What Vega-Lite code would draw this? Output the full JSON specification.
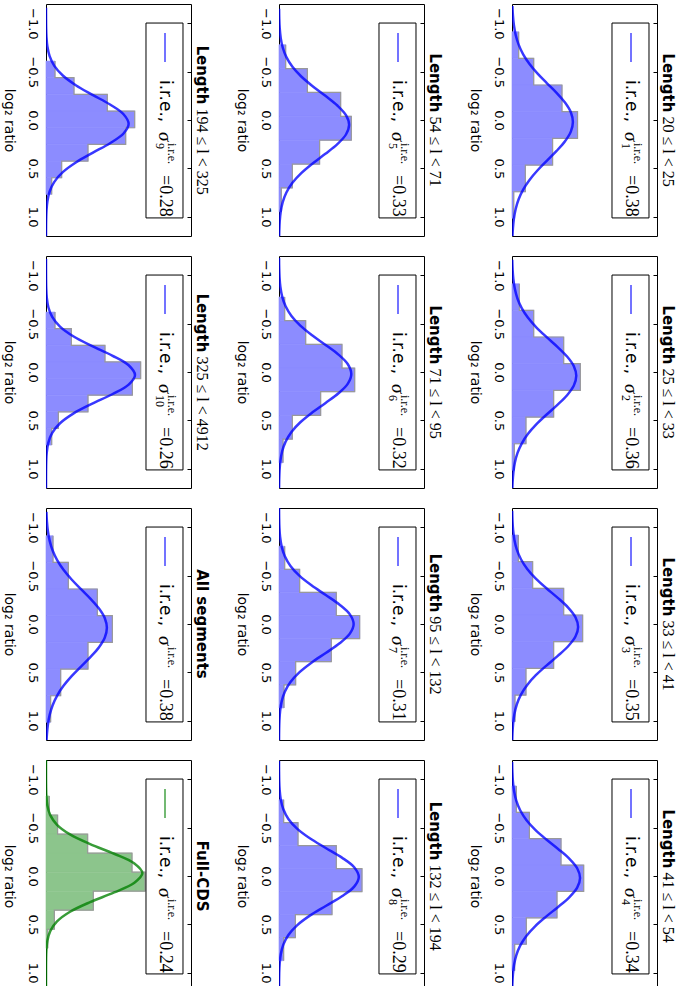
{
"$schema": "https://vega.github.io/schema/vega-lite/v6.json",
"padding": {"left": 0, "top": 3, "right": 0, "bottom": 0},
"background": "#ffffff",
"config": {
 "view": {"stroke": "#000000", "strokeWidth": 1},
 "axis": {"grid": false, "domain": false, "labelFont": "DejaVu Sans", "labelFontSize": 13, "labelColor": "#000000", "titleFont": "DejaVu Sans", "titleFontSize": 14, "titleFontWeight": "normal", "titleColor": "#000000", "tickColor": "#000000"},
 "axisLeft": {"ticks": false, "labelAngle": 90, "labelAlign": "center", "labelBaseline": "top", "labelPadding": 8, "titleAngle": 90, "titleBaseline": "top", "titlePadding": 10},
 "axisRight": {"tickSize": -4, "labels": false},
 "style": {
  "leg": {"angle": 90, "baseline": "middle", "align": "left", "font": "DejaVu Sans", "fontSize": 17, "fill": "#000000"},
  "sig": {"angle": 90, "baseline": "middle", "align": "left", "font": "Liberation Serif", "fontStyle": "italic", "fontSize": 19, "fill": "#000000"},
  "sml": {"angle": 90, "baseline": "middle", "align": "left", "font": "Liberation Serif", "fontSize": 12, "fill": "#000000"},
  "mth": {"angle": 90, "baseline": "middle", "align": "left", "font": "Liberation Serif", "fontSize": 18, "fill": "#000000"},
  "ttl": {"angle": 90, "baseline": "middle", "align": "right", "font": "DejaVu Sans", "fontWeight": "bold", "fontSize": 15, "fill": "#000000"},
  "tm": {"angle": 90, "baseline": "middle", "align": "left", "font": "Liberation Serif", "fontSize": 16, "fill": "#000000"}
 }
},
"datasets": {
 "bars": [
  {"p":1,"lo":-0.913,"hi":-0.638,"d":0.115},{"p":1,"lo":-0.638,"hi":-0.362,"d":0.374},{"p":1,"lo":-0.362,"hi":-0.086,"d":0.862},{"p":1,"lo":-0.086,"hi":0.19,"d":1.13},{"p":1,"lo":0.19,"hi":0.466,"d":0.70},{"p":1,"lo":0.466,"hi":0.742,"d":0.23},{"p":1,"lo":0.742,"hi":1.017,"d":0.03},
  {"p":2,"lo":-0.913,"hi":-0.638,"d":0.126},{"p":2,"lo":-0.638,"hi":-0.362,"d":0.374},{"p":2,"lo":-0.362,"hi":-0.086,"d":0.891},{"p":2,"lo":-0.086,"hi":0.19,"d":1.178},{"p":2,"lo":0.19,"hi":0.466,"d":0.718},{"p":2,"lo":0.466,"hi":0.742,"d":0.241},{"p":2,"lo":0.742,"hi":1.017,"d":0.04},
  {"p":3,"lo":-0.921,"hi":-0.645,"d":0.109},{"p":3,"lo":-0.645,"hi":-0.369,"d":0.356},{"p":3,"lo":-0.369,"hi":-0.093,"d":0.891},{"p":3,"lo":-0.093,"hi":0.183,"d":1.218},{"p":3,"lo":0.183,"hi":0.459,"d":0.718},{"p":3,"lo":0.459,"hi":0.735,"d":0.241},{"p":3,"lo":0.735,"hi":1.011,"d":0.052},
  {"p":4,"lo":-0.932,"hi":-0.659,"d":0.075},{"p":4,"lo":-0.659,"hi":-0.386,"d":0.30},{"p":4,"lo":-0.386,"hi":-0.113,"d":0.845},{"p":4,"lo":-0.113,"hi":0.16,"d":1.236},{"p":4,"lo":0.16,"hi":0.433,"d":0.776},{"p":4,"lo":0.433,"hi":0.706,"d":0.247},{"p":4,"lo":0.706,"hi":0.979,"d":0.046},
  {"p":5,"lo":-0.779,"hi":-0.532,"d":0.115},{"p":5,"lo":-0.532,"hi":-0.285,"d":0.489},{"p":5,"lo":-0.285,"hi":-0.038,"d":1.063},{"p":5,"lo":-0.038,"hi":0.209,"d":1.247},{"p":5,"lo":0.209,"hi":0.456,"d":0.70},{"p":5,"lo":0.456,"hi":0.703,"d":0.23},{"p":5,"lo":0.703,"hi":0.95,"d":0.04},
  {"p":6,"lo":-0.776,"hi":-0.531,"d":0.098},{"p":6,"lo":-0.531,"hi":-0.286,"d":0.46},{"p":6,"lo":-0.286,"hi":-0.041,"d":1.086},{"p":6,"lo":-0.041,"hi":0.204,"d":1.305},{"p":6,"lo":0.204,"hi":0.449,"d":0.718},{"p":6,"lo":0.449,"hi":0.694,"d":0.23},{"p":6,"lo":0.694,"hi":0.939,"d":0.069},
  {"p":7,"lo":-0.805,"hi":-0.566,"d":0.098},{"p":7,"lo":-0.566,"hi":-0.327,"d":0.356},{"p":7,"lo":-0.327,"hi":-0.088,"d":0.988},{"p":7,"lo":-0.088,"hi":0.151,"d":1.391},{"p":7,"lo":0.151,"hi":0.39,"d":0.902},{"p":7,"lo":0.39,"hi":0.629,"d":0.287},{"p":7,"lo":0.629,"hi":0.868,"d":0.086},
  {"p":8,"lo":-0.79,"hi":-0.552,"d":0.08},{"p":8,"lo":-0.552,"hi":-0.314,"d":0.328},{"p":8,"lo":-0.314,"hi":-0.076,"d":0.988},{"p":8,"lo":-0.076,"hi":0.162,"d":1.431},{"p":8,"lo":0.162,"hi":0.4,"d":0.914},{"p":8,"lo":0.4,"hi":0.638,"d":0.282},{"p":8,"lo":0.638,"hi":0.876,"d":0.08},
  {"p":9,"lo":-0.61,"hi":-0.4375,"d":0.155},{"p":9,"lo":-0.4375,"hi":-0.265,"d":0.483},{"p":9,"lo":-0.265,"hi":-0.0925,"d":1.057},{"p":9,"lo":-0.0925,"hi":0.08,"d":1.529},{"p":9,"lo":0.08,"hi":0.2525,"d":1.374},{"p":9,"lo":0.2525,"hi":0.425,"d":0.724},{"p":9,"lo":0.425,"hi":0.5975,"d":0.27},{"p":9,"lo":0.5975,"hi":0.77,"d":0.098},
  {"p":10,"lo":-0.62,"hi":-0.448,"d":0.155},{"p":10,"lo":-0.448,"hi":-0.276,"d":0.437},{"p":10,"lo":-0.276,"hi":-0.104,"d":1.017},{"p":10,"lo":-0.104,"hi":0.068,"d":1.632},{"p":10,"lo":0.068,"hi":0.24,"d":1.489},{"p":10,"lo":0.24,"hi":0.412,"d":0.724},{"p":10,"lo":0.412,"hi":0.584,"d":0.213},{"p":10,"lo":0.584,"hi":0.756,"d":0.098},
  {"p":11,"lo":-0.913,"hi":-0.638,"d":0.121},{"p":11,"lo":-0.638,"hi":-0.362,"d":0.385},{"p":11,"lo":-0.362,"hi":-0.086,"d":0.885},{"p":11,"lo":-0.086,"hi":0.19,"d":1.144},{"p":11,"lo":0.19,"hi":0.466,"d":0.724},{"p":11,"lo":0.466,"hi":0.742,"d":0.253},{"p":11,"lo":0.742,"hi":1.017,"d":0.08},
  {"p":12,"lo":-0.828,"hi":-0.631,"d":0.057},{"p":12,"lo":-0.631,"hi":-0.434,"d":0.20},{"p":12,"lo":-0.434,"hi":-0.237,"d":0.718},{"p":12,"lo":-0.237,"hi":-0.04,"d":1.483},{"p":12,"lo":-0.04,"hi":0.157,"d":1.707},{"p":12,"lo":0.157,"hi":0.354,"d":0.816},{"p":12,"lo":0.354,"hi":0.551,"d":0.144},{"p":12,"lo":0.551,"hi":0.748,"d":0.03}
 ],
 "curves": [
  {"p":1,"r":-1.18,"d":0.0072},{"p":1,"r":-1.08,"d":0.0159},{"p":1,"r":-0.98,"d":0.0329},{"p":1,"r":-0.88,"d":0.0635},{"p":1,"r":-0.78,"d":0.1145},{"p":1,"r":-0.68,"d":0.1924},{"p":1,"r":-0.58,"d":0.3018},{"p":1,"r":-0.48,"d":0.4417},{"p":1,"r":-0.38,"d":0.6033},{"p":1,"r":-0.28,"d":0.7687},{"p":1,"r":-0.18,"d":0.914},{"p":1,"r":-0.08,"d":1.0141},{"p":1,"r":0.02,"d":1.0498},{"p":1,"r":0.12,"d":1.0141},{"p":1,"r":0.22,"d":0.914},{"p":1,"r":0.32,"d":0.7687},{"p":1,"r":0.42,"d":0.6033},{"p":1,"r":0.52,"d":0.4417},{"p":1,"r":0.62,"d":0.3018},{"p":1,"r":0.72,"d":0.1924},{"p":1,"r":0.82,"d":0.1145},{"p":1,"r":0.92,"d":0.0635},{"p":1,"r":1.02,"d":0.0329},{"p":1,"r":1.12,"d":0.0159},{"p":1,"r":1.22,"d":0.0072},
  {"p":2,"r":-1.16,"d":0.0043},{"p":2,"r":-1.06,"d":0.0104},{"p":2,"r":-0.96,"d":0.0234},{"p":2,"r":-0.86,"d":0.0487},{"p":2,"r":-0.76,"d":0.0938},{"p":2,"r":-0.66,"d":0.1674},{"p":2,"r":-0.56,"d":0.2763},{"p":2,"r":-0.46,"d":0.4224},{"p":2,"r":-0.36,"d":0.5978},{"p":2,"r":-0.26,"d":0.7831},{"p":2,"r":-0.16,"d":0.9497},{"p":2,"r":-0.06,"d":1.0663},{"p":2,"r":0.04,"d":1.1082},{"p":2,"r":0.14,"d":1.0663},{"p":2,"r":0.24,"d":0.9497},{"p":2,"r":0.34,"d":0.7831},{"p":2,"r":0.44,"d":0.5978},{"p":2,"r":0.54,"d":0.4224},{"p":2,"r":0.64,"d":0.2763},{"p":2,"r":0.74,"d":0.1674},{"p":2,"r":0.84,"d":0.0938},{"p":2,"r":0.94,"d":0.0487},{"p":2,"r":1.04,"d":0.0234},{"p":2,"r":1.14,"d":0.0104},{"p":2,"r":1.24,"d":0.0043},
  {"p":3,"r":-1.17,"d":0.0032},{"p":3,"r":-1.07,"d":0.0082},{"p":3,"r":-0.97,"d":0.0192},{"p":3,"r":-0.87,"d":0.0418},{"p":3,"r":-0.77,"d":0.0836},{"p":3,"r":-0.67,"d":0.1543},{"p":3,"r":-0.57,"d":0.2623},{"p":3,"r":-0.47,"d":0.4108},{"p":3,"r":-0.37,"d":0.5932},{"p":3,"r":-0.27,"d":0.7894},{"p":3,"r":-0.17,"d":0.9681},{"p":3,"r":-0.07,"d":1.0942},{"p":3,"r":0.03,"d":1.1398},{"p":3,"r":0.13,"d":1.0942},{"p":3,"r":0.23,"d":0.9681},{"p":3,"r":0.33,"d":0.7894},{"p":3,"r":0.43,"d":0.5932},{"p":3,"r":0.53,"d":0.4108},{"p":3,"r":0.63,"d":0.2623},{"p":3,"r":0.73,"d":0.1543},{"p":3,"r":0.83,"d":0.0836},{"p":3,"r":0.93,"d":0.0418},{"p":3,"r":1.03,"d":0.0192},{"p":3,"r":1.13,"d":0.0082},{"p":3,"r":1.23,"d":0.0032},
  {"p":4,"r":-1.18,"d":0.0023},{"p":4,"r":-1.08,"d":0.0063},{"p":4,"r":-0.98,"d":0.0155},{"p":4,"r":-0.88,"d":0.0353},{"p":4,"r":-0.78,"d":0.0737},{"p":4,"r":-0.68,"d":0.141},{"p":4,"r":-0.58,"d":0.2473},{"p":4,"r":-0.48,"d":0.3979},{"p":4,"r":-0.38,"d":0.5873},{"p":4,"r":-0.28,"d":0.795},{"p":4,"r":-0.18,"d":0.987},{"p":4,"r":-0.08,"d":1.1237},{"p":4,"r":0.02,"d":1.1734},{"p":4,"r":0.12,"d":1.1237},{"p":4,"r":0.22,"d":0.987},{"p":4,"r":0.32,"d":0.795},{"p":4,"r":0.42,"d":0.5873},{"p":4,"r":0.52,"d":0.3979},{"p":4,"r":0.62,"d":0.2473},{"p":4,"r":0.72,"d":0.141},{"p":4,"r":0.82,"d":0.0737},{"p":4,"r":0.92,"d":0.0353},{"p":4,"r":1.02,"d":0.0155},{"p":4,"r":1.12,"d":0.0063},{"p":4,"r":1.22,"d":0.0023},
  {"p":5,"r":-1.15,"d":0.0016},{"p":5,"r":-1.05,"d":0.0047},{"p":5,"r":-0.95,"d":0.0122},{"p":5,"r":-0.85,"d":0.0293},{"p":5,"r":-0.75,"d":0.064},{"p":5,"r":-0.65,"d":0.1274},{"p":5,"r":-0.55,"d":0.2315},{"p":5,"r":-0.45,"d":0.3836},{"p":5,"r":-0.35,"d":0.5799},{"p":5,"r":-0.25,"d":0.7997},{"p":5,"r":-0.15,"d":1.0061},{"p":5,"r":-0.05,"d":1.1547},{"p":5,"r":0.05,"d":1.2089},{"p":5,"r":0.15,"d":1.1547},{"p":5,"r":0.25,"d":1.0061},{"p":5,"r":0.35,"d":0.7997},{"p":5,"r":0.45,"d":0.5799},{"p":5,"r":0.55,"d":0.3836},{"p":5,"r":0.65,"d":0.2315},{"p":5,"r":0.75,"d":0.1274},{"p":5,"r":0.85,"d":0.064},{"p":5,"r":0.95,"d":0.0293},{"p":5,"r":1.05,"d":0.0122},{"p":5,"r":1.15,"d":0.0047},{"p":5,"r":1.25,"d":0.0016},
  {"p":6,"r":-1.18,"d":0.0011},{"p":6,"r":-1.08,"d":0.0034},{"p":6,"r":-0.98,"d":0.0094},{"p":6,"r":-0.88,"d":0.0239},{"p":6,"r":-0.78,"d":0.0548},{"p":6,"r":-0.68,"d":0.1139},{"p":6,"r":-0.58,"d":0.215},{"p":6,"r":-0.48,"d":0.3678},{"p":6,"r":-0.38,"d":0.5708},{"p":6,"r":-0.28,"d":0.8034},{"p":6,"r":-0.18,"d":1.0255},{"p":6,"r":-0.08,"d":1.1873},{"p":6,"r":0.02,"d":1.2467},{"p":6,"r":0.12,"d":1.1873},{"p":6,"r":0.22,"d":1.0255},{"p":6,"r":0.32,"d":0.8034},{"p":6,"r":0.42,"d":0.5708},{"p":6,"r":0.52,"d":0.3678},{"p":6,"r":0.62,"d":0.215},{"p":6,"r":0.72,"d":0.1139},{"p":6,"r":0.82,"d":0.0548},{"p":6,"r":0.92,"d":0.0239},{"p":6,"r":1.02,"d":0.0094},{"p":6,"r":1.12,"d":0.0034},{"p":6,"r":1.22,"d":0.0011},
  {"p":7,"r":-1.2,"d":0.0007},{"p":7,"r":-1.1,"d":0.0024},{"p":7,"r":-1.0,"d":0.0071},{"p":7,"r":-0.9,"d":0.019},{"p":7,"r":-0.8,"d":0.0461},{"p":7,"r":-0.7,"d":0.1005},{"p":7,"r":-0.6,"d":0.1978},{"p":7,"r":-0.5,"d":0.3505},{"p":7,"r":-0.4,"d":0.5598},{"p":7,"r":-0.3,"d":0.8057},{"p":7,"r":-0.2,"d":1.0451},{"p":7,"r":-0.1,"d":1.2217},{"p":7,"r":0.0,"d":1.2869},{"p":7,"r":0.1,"d":1.2217},{"p":7,"r":0.2,"d":1.0451},{"p":7,"r":0.3,"d":0.8057},{"p":7,"r":0.4,"d":0.5598},{"p":7,"r":0.5,"d":0.3505},{"p":7,"r":0.6,"d":0.1978},{"p":7,"r":0.7,"d":0.1005},{"p":7,"r":0.8,"d":0.0461},{"p":7,"r":0.9,"d":0.019},{"p":7,"r":1.0,"d":0.0071},{"p":7,"r":1.1,"d":0.0024},{"p":7,"r":1.2,"d":0.0007},
  {"p":8,"r":-1.19,"d":0.0003},{"p":8,"r":-1.09,"d":0.001},{"p":8,"r":-0.99,"d":0.0036},{"p":8,"r":-0.89,"d":0.0111},{"p":8,"r":-0.79,"d":0.0306},{"p":8,"r":-0.69,"d":0.0747},{"p":8,"r":-0.59,"d":0.1618},{"p":8,"r":-0.49,"d":0.3112},{"p":8,"r":-0.39,"d":0.5314},{"p":8,"r":-0.29,"d":0.8057},{"p":8,"r":-0.19,"d":1.0846},{"p":8,"r":-0.09,"d":1.2963},{"p":8,"r":0.01,"d":1.3757},{"p":8,"r":0.11,"d":1.2963},{"p":8,"r":0.21,"d":1.0846},{"p":8,"r":0.31,"d":0.8057},{"p":8,"r":0.41,"d":0.5314},{"p":8,"r":0.51,"d":0.3112},{"p":8,"r":0.61,"d":0.1618},{"p":8,"r":0.71,"d":0.0747},{"p":8,"r":0.81,"d":0.0306},{"p":8,"r":0.91,"d":0.0111},{"p":8,"r":1.01,"d":0.0036},{"p":8,"r":1.11,"d":0.001},{"p":8,"r":1.21,"d":0.0003},
  {"p":9,"r":-1.16,"d":0.0001},{"p":9,"r":-1.06,"d":0.0006},{"p":9,"r":-0.96,"d":0.0024},{"p":9,"r":-0.86,"d":0.0081},{"p":9,"r":-0.76,"d":0.0241},{"p":9,"r":-0.66,"d":0.0626},{"p":9,"r":-0.56,"d":0.1434},{"p":9,"r":-0.46,"d":0.2893},{"p":9,"r":-0.36,"d":0.5136},{"p":9,"r":-0.26,"d":0.8026},{"p":9,"r":-0.16,"d":1.104},{"p":9,"r":-0.06,"d":1.3368},{"p":9,"r":0.04,"d":1.4248},{"p":9,"r":0.14,"d":1.3368},{"p":9,"r":0.24,"d":1.104},{"p":9,"r":0.34,"d":0.8026},{"p":9,"r":0.44,"d":0.5136},{"p":9,"r":0.54,"d":0.2893},{"p":9,"r":0.64,"d":0.1434},{"p":9,"r":0.74,"d":0.0626},{"p":9,"r":0.84,"d":0.0241},{"p":9,"r":0.94,"d":0.0081},{"p":9,"r":1.04,"d":0.0024},{"p":9,"r":1.14,"d":0.0006},{"p":9,"r":1.24,"d":0.0001},
  {"p":10,"r":-1.17,"d":0},{"p":10,"r":-1.07,"d":0.0002},{"p":10,"r":-0.97,"d":0.0009},{"p":10,"r":-0.87,"d":0.0038},{"p":10,"r":-0.77,"d":0.0135},{"p":10,"r":-0.67,"d":0.0409},{"p":10,"r":-0.57,"d":0.107},{"p":10,"r":-0.47,"d":0.2415},{"p":10,"r":-0.37,"d":0.4699},{"p":10,"r":-0.27,"d":0.7886},{"p":10,"r":-0.17,"d":1.1414},{"p":10,"r":-0.07,"d":1.425},{"p":10,"r":0.03,"d":1.5344},{"p":10,"r":0.13,"d":1.425},{"p":10,"r":0.23,"d":1.1414},{"p":10,"r":0.33,"d":0.7886},{"p":10,"r":0.43,"d":0.4699},{"p":10,"r":0.53,"d":0.2415},{"p":10,"r":0.63,"d":0.107},{"p":10,"r":0.73,"d":0.0409},{"p":10,"r":0.83,"d":0.0135},{"p":10,"r":0.93,"d":0.0038},{"p":10,"r":1.03,"d":0.0009},{"p":10,"r":1.13,"d":0.0002},{"p":10,"r":1.23,"d":0},
  {"p":11,"r":-1.16,"d":0.0072},{"p":11,"r":-1.06,"d":0.0159},{"p":11,"r":-0.96,"d":0.0329},{"p":11,"r":-0.86,"d":0.0635},{"p":11,"r":-0.76,"d":0.1145},{"p":11,"r":-0.66,"d":0.1924},{"p":11,"r":-0.56,"d":0.3018},{"p":11,"r":-0.46,"d":0.4417},{"p":11,"r":-0.36,"d":0.6033},{"p":11,"r":-0.26,"d":0.7687},{"p":11,"r":-0.16,"d":0.914},{"p":11,"r":-0.06,"d":1.0141},{"p":11,"r":0.04,"d":1.0498},{"p":11,"r":0.14,"d":1.0141},{"p":11,"r":0.24,"d":0.914},{"p":11,"r":0.34,"d":0.7687},{"p":11,"r":0.44,"d":0.6033},{"p":11,"r":0.54,"d":0.4417},{"p":11,"r":0.64,"d":0.3018},{"p":11,"r":0.74,"d":0.1924},{"p":11,"r":0.84,"d":0.1145},{"p":11,"r":0.94,"d":0.0635},{"p":11,"r":1.04,"d":0.0329},{"p":11,"r":1.14,"d":0.0159},{"p":11,"r":1.24,"d":0.0072},
  {"p":12,"r":-1.23,"d":0},{"p":12,"r":-1.13,"d":0},{"p":12,"r":-1.03,"d":0.0003},{"p":12,"r":-0.93,"d":0.0015},{"p":12,"r":-0.83,"d":0.0064},{"p":12,"r":-0.73,"d":0.0236},{"p":12,"r":-0.63,"d":0.073},{"p":12,"r":-0.53,"d":0.1898},{"p":12,"r":-0.43,"d":0.4145},{"p":12,"r":-0.33,"d":0.7611},{"p":12,"r":-0.23,"d":1.1747},{"p":12,"r":-0.13,"d":1.5241},{"p":12,"r":-0.03,"d":1.6623},{"p":12,"r":0.07,"d":1.5241},{"p":12,"r":0.17,"d":1.1747},{"p":12,"r":0.27,"d":0.7611},{"p":12,"r":0.37,"d":0.4145},{"p":12,"r":0.47,"d":0.1898},{"p":12,"r":0.57,"d":0.073},{"p":12,"r":0.67,"d":0.0236},{"p":12,"r":0.77,"d":0.0064},{"p":12,"r":0.87,"d":0.0015},{"p":12,"r":0.97,"d":0.0003},{"p":12,"r":1.07,"d":0},{"p":12,"r":1.17,"d":0}
 ],
 "labels": [
  {"p":1,"t1":"Length","t2":"20 ≤ l < 25","sub":"1","val":"=0.38"},
  {"p":2,"t1":"Length","t2":"25 ≤ l < 33","sub":"2","val":"=0.36"},
  {"p":3,"t1":"Length","t2":"33 ≤ l < 41","sub":"3","val":"=0.35"},
  {"p":4,"t1":"Length","t2":"41 ≤ l < 54","sub":"4","val":"=0.34"},
  {"p":5,"t1":"Length","t2":"54 ≤ l < 71","sub":"5","val":"=0.33"},
  {"p":6,"t1":"Length","t2":"71 ≤ l < 95","sub":"6","val":"=0.32"},
  {"p":7,"t1":"Length","t2":"95 ≤ l < 132","sub":"7","val":"=0.31"},
  {"p":8,"t1":"Length","t2":"132 ≤ l < 194","sub":"8","val":"=0.29"},
  {"p":9,"t1":"Length","t2":"194 ≤ l < 325","sub":"9","val":"=0.28"},
  {"p":10,"t1":"Length","t2":"325 ≤ l < 4912","sub":"10","val":"=0.26"},
  {"p":11,"t1":"All segments","t2":"","sub":"","val":"=0.38"},
  {"p":12,"t1":"Full-CDS","t2":"","sub":"","val":"=0.24"}
 ]
},
"columns": 3,
"spacing": {"row": 18, "column": 22},
"concat": [
 {"width":145,"height":232,"resolve":{"axis":{"y":"independent"}},"layer":[
  {"data":{"name":"bars"},"transform":[{"filter":"datum.p==9"}],"mark":{"type":"rect","fill":"#8c8cff","stroke":"#8c8cff","strokeWidth":0.6},"encoding":{"y":{"field":"lo","type":"quantitative","scale":{"domain":[-1.2,1.2],"reverse":true,"nice":false,"zero":false},"axis":{"values":[-1,-0.5,0,0.5,1],"format":".1f","title":"log₂ ratio"}},"y2":{"field":"hi"},"x":{"field":"d","type":"quantitative","scale":{"domain":[0,2.5],"nice":false,"zero":false},"axis":null},"x2":{"datum":0}}},
  {"data":{"name":"bars"},"transform":[{"filter":"datum.p==9"},{"fold":["lo","hi"],"as":["k","e"]},{"window":[{"op":"row_number","as":"o"}],"sort":[{"field":"e","order":"ascending"},{"field":"k","order":"ascending"}]}],"mark":{"type":"line","stroke":"#999999","strokeWidth":1.2},"encoding":{"y":{"field":"e","type":"quantitative","axis":null},"x":{"field":"d","type":"quantitative","axis":null},"order":{"field":"o","type":"quantitative"}}},
  {"data":{"name":"curves"},"transform":[{"filter":"datum.p==9"}],"mark":{"type":"line","stroke":"#0000ff","strokeOpacity":0.78,"strokeWidth":2.5,"interpolate":"catmull-rom","clip":true},"encoding":{"y":{"field":"r","type":"quantitative","axis":{"orient":"right","values":[-1,-0.5,0,0.5,1],"title":null}},"x":{"field":"d","type":"quantitative","axis":null},"order":{"field":"r","type":"quantitative"}}},
  {"data":{"values":[{}]},"mark":{"type":"rect","fill":"#ffffff","stroke":"#000000","strokeWidth":1},"encoding":{"x":{"datum":1.724,"axis":null},"x2":{"datum":2.362},"y":{"datum":-1.003,"axis":null},"y2":{"datum":1.013}}},
  {"data":{"values":[{}]},"mark":{"type":"rule","stroke":"#0000ff","strokeOpacity":0.55,"strokeWidth":2},"encoding":{"x":{"datum":2.052,"axis":null},"y":{"datum":-0.9,"axis":null},"y2":{"datum":-0.6}}},
  {"data":{"values":[{}]},"mark":{"type":"text","style":"leg"},"encoding":{"text":{"value":"i.r.e.,"},"x":{"datum":2.052,"axis":null},"y":{"datum":-0.414,"axis":null}}},
  {"data":{"values":[{}]},"mark":{"type":"text","style":"sig"},"encoding":{"text":{"value":"σ"},"x":{"datum":2.052,"axis":null},"y":{"datum":0.124,"axis":null}}},
  {"data":{"values":[{}]},"mark":{"type":"text","style":"sml"},"encoding":{"text":{"value":"i.r.e."},"x":{"datum":2.173,"axis":null},"y":{"datum":0.238,"axis":null}}},
  {"data":{"name":"labels"},"transform":[{"filter":"datum.p==9"}],"mark":{"type":"text","style":"sml"},"encoding":{"text":{"field":"sub"},"x":{"datum":1.966,"axis":null},"y":{"datum":0.238,"axis":null}}},
  {"data":{"name":"labels"},"transform":[{"filter":"datum.p==9"}],"mark":{"type":"text","style":"mth"},"encoding":{"text":{"field":"val"},"x":{"datum":2.052,"axis":null},"y":{"datum":0.569,"axis":null}}},
  {"data":{"name":"labels"},"transform":[{"filter":"datum.p==9"}],"mark":{"type":"text","style":"ttl"},"encoding":{"text":{"field":"t1"},"x":{"datum":2.69,"axis":null},"y":{"datum":-0.161,"axis":null}}},
  {"data":{"name":"labels"},"transform":[{"filter":"datum.p==9"}],"mark":{"type":"text","style":"tm"},"encoding":{"text":{"field":"t2"},"x":{"datum":2.69,"axis":null},"y":{"datum":-0.12,"axis":null}}}
 ]},
 {"width":145,"height":232,"resolve":{"axis":{"y":"independent"}},"layer":[
  {"data":{"name":"bars"},"transform":[{"filter":"datum.p==5"}],"mark":{"type":"rect","fill":"#8c8cff","stroke":"#8c8cff","strokeWidth":0.6},"encoding":{"y":{"field":"lo","type":"quantitative","scale":{"domain":[-1.2,1.2],"reverse":true,"nice":false,"zero":false},"axis":{"values":[-1,-0.5,0,0.5,1],"format":".1f","title":"log₂ ratio"}},"y2":{"field":"hi"},"x":{"field":"d","type":"quantitative","scale":{"domain":[0,2.5],"nice":false,"zero":false},"axis":null},"x2":{"datum":0}}},
  {"data":{"name":"bars"},"transform":[{"filter":"datum.p==5"},{"fold":["lo","hi"],"as":["k","e"]},{"window":[{"op":"row_number","as":"o"}],"sort":[{"field":"e","order":"ascending"},{"field":"k","order":"ascending"}]}],"mark":{"type":"line","stroke":"#999999","strokeWidth":1.2},"encoding":{"y":{"field":"e","type":"quantitative","axis":null},"x":{"field":"d","type":"quantitative","axis":null},"order":{"field":"o","type":"quantitative"}}},
  {"data":{"name":"curves"},"transform":[{"filter":"datum.p==5"}],"mark":{"type":"line","stroke":"#0000ff","strokeOpacity":0.78,"strokeWidth":2.5,"interpolate":"catmull-rom","clip":true},"encoding":{"y":{"field":"r","type":"quantitative","axis":{"orient":"right","values":[-1,-0.5,0,0.5,1],"title":null}},"x":{"field":"d","type":"quantitative","axis":null},"order":{"field":"r","type":"quantitative"}}},
  {"data":{"values":[{}]},"mark":{"type":"rect","fill":"#ffffff","stroke":"#000000","strokeWidth":1},"encoding":{"x":{"datum":1.724,"axis":null},"x2":{"datum":2.362},"y":{"datum":-1.003,"axis":null},"y2":{"datum":1.013}}},
  {"data":{"values":[{}]},"mark":{"type":"rule","stroke":"#0000ff","strokeOpacity":0.55,"strokeWidth":2},"encoding":{"x":{"datum":2.052,"axis":null},"y":{"datum":-0.9,"axis":null},"y2":{"datum":-0.6}}},
  {"data":{"values":[{}]},"mark":{"type":"text","style":"leg"},"encoding":{"text":{"value":"i.r.e.,"},"x":{"datum":2.052,"axis":null},"y":{"datum":-0.414,"axis":null}}},
  {"data":{"values":[{}]},"mark":{"type":"text","style":"sig"},"encoding":{"text":{"value":"σ"},"x":{"datum":2.052,"axis":null},"y":{"datum":0.124,"axis":null}}},
  {"data":{"values":[{}]},"mark":{"type":"text","style":"sml"},"encoding":{"text":{"value":"i.r.e."},"x":{"datum":2.173,"axis":null},"y":{"datum":0.238,"axis":null}}},
  {"data":{"name":"labels"},"transform":[{"filter":"datum.p==5"}],"mark":{"type":"text","style":"sml"},"encoding":{"text":{"field":"sub"},"x":{"datum":1.966,"axis":null},"y":{"datum":0.238,"axis":null}}},
  {"data":{"name":"labels"},"transform":[{"filter":"datum.p==5"}],"mark":{"type":"text","style":"mth"},"encoding":{"text":{"field":"val"},"x":{"datum":2.052,"axis":null},"y":{"datum":0.569,"axis":null}}},
  {"data":{"name":"labels"},"transform":[{"filter":"datum.p==5"}],"mark":{"type":"text","style":"ttl"},"encoding":{"text":{"field":"t1"},"x":{"datum":2.69,"axis":null},"y":{"datum":-0.079,"axis":null}}},
  {"data":{"name":"labels"},"transform":[{"filter":"datum.p==5"}],"mark":{"type":"text","style":"tm"},"encoding":{"text":{"field":"t2"},"x":{"datum":2.69,"axis":null},"y":{"datum":-0.037,"axis":null}}}
 ]},
 {"width":145,"height":232,"resolve":{"axis":{"y":"independent"}},"layer":[
  {"data":{"name":"bars"},"transform":[{"filter":"datum.p==1"}],"mark":{"type":"rect","fill":"#8c8cff","stroke":"#8c8cff","strokeWidth":0.6},"encoding":{"y":{"field":"lo","type":"quantitative","scale":{"domain":[-1.2,1.2],"reverse":true,"nice":false,"zero":false},"axis":{"values":[-1,-0.5,0,0.5,1],"format":".1f","title":"log₂ ratio"}},"y2":{"field":"hi"},"x":{"field":"d","type":"quantitative","scale":{"domain":[0,2.5],"nice":false,"zero":false},"axis":null},"x2":{"datum":0}}},
  {"data":{"name":"bars"},"transform":[{"filter":"datum.p==1"},{"fold":["lo","hi"],"as":["k","e"]},{"window":[{"op":"row_number","as":"o"}],"sort":[{"field":"e","order":"ascending"},{"field":"k","order":"ascending"}]}],"mark":{"type":"line","stroke":"#999999","strokeWidth":1.2},"encoding":{"y":{"field":"e","type":"quantitative","axis":null},"x":{"field":"d","type":"quantitative","axis":null},"order":{"field":"o","type":"quantitative"}}},
  {"data":{"name":"curves"},"transform":[{"filter":"datum.p==1"}],"mark":{"type":"line","stroke":"#0000ff","strokeOpacity":0.78,"strokeWidth":2.5,"interpolate":"catmull-rom","clip":true},"encoding":{"y":{"field":"r","type":"quantitative","axis":{"orient":"right","values":[-1,-0.5,0,0.5,1],"title":null}},"x":{"field":"d","type":"quantitative","axis":null},"order":{"field":"r","type":"quantitative"}}},
  {"data":{"values":[{}]},"mark":{"type":"rect","fill":"#ffffff","stroke":"#000000","strokeWidth":1},"encoding":{"x":{"datum":1.724,"axis":null},"x2":{"datum":2.362},"y":{"datum":-1.003,"axis":null},"y2":{"datum":1.013}}},
  {"data":{"values":[{}]},"mark":{"type":"rule","stroke":"#0000ff","strokeOpacity":0.55,"strokeWidth":2},"encoding":{"x":{"datum":2.052,"axis":null},"y":{"datum":-0.9,"axis":null},"y2":{"datum":-0.6}}},
  {"data":{"values":[{}]},"mark":{"type":"text","style":"leg"},"encoding":{"text":{"value":"i.r.e.,"},"x":{"datum":2.052,"axis":null},"y":{"datum":-0.414,"axis":null}}},
  {"data":{"values":[{}]},"mark":{"type":"text","style":"sig"},"encoding":{"text":{"value":"σ"},"x":{"datum":2.052,"axis":null},"y":{"datum":0.124,"axis":null}}},
  {"data":{"values":[{}]},"mark":{"type":"text","style":"sml"},"encoding":{"text":{"value":"i.r.e."},"x":{"datum":2.173,"axis":null},"y":{"datum":0.238,"axis":null}}},
  {"data":{"name":"labels"},"transform":[{"filter":"datum.p==1"}],"mark":{"type":"text","style":"sml"},"encoding":{"text":{"field":"sub"},"x":{"datum":1.966,"axis":null},"y":{"datum":0.238,"axis":null}}},
  {"data":{"name":"labels"},"transform":[{"filter":"datum.p==1"}],"mark":{"type":"text","style":"mth"},"encoding":{"text":{"field":"val"},"x":{"datum":2.052,"axis":null},"y":{"datum":0.569,"axis":null}}},
  {"data":{"name":"labels"},"transform":[{"filter":"datum.p==1"}],"mark":{"type":"text","style":"ttl"},"encoding":{"text":{"field":"t1"},"x":{"datum":2.69,"axis":null},"y":{"datum":-0.079,"axis":null}}},
  {"data":{"name":"labels"},"transform":[{"filter":"datum.p==1"}],"mark":{"type":"text","style":"tm"},"encoding":{"text":{"field":"t2"},"x":{"datum":2.69,"axis":null},"y":{"datum":-0.037,"axis":null}}}
 ]},
 {"width":145,"height":232,"resolve":{"axis":{"y":"independent"}},"layer":[
  {"data":{"name":"bars"},"transform":[{"filter":"datum.p==10"}],"mark":{"type":"rect","fill":"#8c8cff","stroke":"#8c8cff","strokeWidth":0.6},"encoding":{"y":{"field":"lo","type":"quantitative","scale":{"domain":[-1.2,1.2],"reverse":true,"nice":false,"zero":false},"axis":{"values":[-1,-0.5,0,0.5,1],"format":".1f","title":"log₂ ratio"}},"y2":{"field":"hi"},"x":{"field":"d","type":"quantitative","scale":{"domain":[0,2.5],"nice":false,"zero":false},"axis":null},"x2":{"datum":0}}},
  {"data":{"name":"bars"},"transform":[{"filter":"datum.p==10"},{"fold":["lo","hi"],"as":["k","e"]},{"window":[{"op":"row_number","as":"o"}],"sort":[{"field":"e","order":"ascending"},{"field":"k","order":"ascending"}]}],"mark":{"type":"line","stroke":"#999999","strokeWidth":1.2},"encoding":{"y":{"field":"e","type":"quantitative","axis":null},"x":{"field":"d","type":"quantitative","axis":null},"order":{"field":"o","type":"quantitative"}}},
  {"data":{"name":"curves"},"transform":[{"filter":"datum.p==10"}],"mark":{"type":"line","stroke":"#0000ff","strokeOpacity":0.78,"strokeWidth":2.5,"interpolate":"catmull-rom","clip":true},"encoding":{"y":{"field":"r","type":"quantitative","axis":{"orient":"right","values":[-1,-0.5,0,0.5,1],"title":null}},"x":{"field":"d","type":"quantitative","axis":null},"order":{"field":"r","type":"quantitative"}}},
  {"data":{"values":[{}]},"mark":{"type":"rect","fill":"#ffffff","stroke":"#000000","strokeWidth":1},"encoding":{"x":{"datum":1.724,"axis":null},"x2":{"datum":2.362},"y":{"datum":-1.003,"axis":null},"y2":{"datum":1.013}}},
  {"data":{"values":[{}]},"mark":{"type":"rule","stroke":"#0000ff","strokeOpacity":0.55,"strokeWidth":2},"encoding":{"x":{"datum":2.052,"axis":null},"y":{"datum":-0.9,"axis":null},"y2":{"datum":-0.6}}},
  {"data":{"values":[{}]},"mark":{"type":"text","style":"leg"},"encoding":{"text":{"value":"i.r.e.,"},"x":{"datum":2.052,"axis":null},"y":{"datum":-0.414,"axis":null}}},
  {"data":{"values":[{}]},"mark":{"type":"text","style":"sig"},"encoding":{"text":{"value":"σ"},"x":{"datum":2.052,"axis":null},"y":{"datum":0.124,"axis":null}}},
  {"data":{"values":[{}]},"mark":{"type":"text","style":"sml"},"encoding":{"text":{"value":"i.r.e."},"x":{"datum":2.173,"axis":null},"y":{"datum":0.238,"axis":null}}},
  {"data":{"name":"labels"},"transform":[{"filter":"datum.p==10"}],"mark":{"type":"text","style":"sml"},"encoding":{"text":{"field":"sub"},"x":{"datum":1.966,"axis":null},"y":{"datum":0.238,"axis":null}}},
  {"data":{"name":"labels"},"transform":[{"filter":"datum.p==10"}],"mark":{"type":"text","style":"mth"},"encoding":{"text":{"field":"val"},"x":{"datum":2.052,"axis":null},"y":{"datum":0.569,"axis":null}}},
  {"data":{"name":"labels"},"transform":[{"filter":"datum.p==10"}],"mark":{"type":"text","style":"ttl"},"encoding":{"text":{"field":"t1"},"x":{"datum":2.69,"axis":null},"y":{"datum":-0.203,"axis":null}}},
  {"data":{"name":"labels"},"transform":[{"filter":"datum.p==10"}],"mark":{"type":"text","style":"tm"},"encoding":{"text":{"field":"t2"},"x":{"datum":2.69,"axis":null},"y":{"datum":-0.161,"axis":null}}}
 ]},
 {"width":145,"height":232,"resolve":{"axis":{"y":"independent"}},"layer":[
  {"data":{"name":"bars"},"transform":[{"filter":"datum.p==6"}],"mark":{"type":"rect","fill":"#8c8cff","stroke":"#8c8cff","strokeWidth":0.6},"encoding":{"y":{"field":"lo","type":"quantitative","scale":{"domain":[-1.2,1.2],"reverse":true,"nice":false,"zero":false},"axis":{"values":[-1,-0.5,0,0.5,1],"format":".1f","title":"log₂ ratio"}},"y2":{"field":"hi"},"x":{"field":"d","type":"quantitative","scale":{"domain":[0,2.5],"nice":false,"zero":false},"axis":null},"x2":{"datum":0}}},
  {"data":{"name":"bars"},"transform":[{"filter":"datum.p==6"},{"fold":["lo","hi"],"as":["k","e"]},{"window":[{"op":"row_number","as":"o"}],"sort":[{"field":"e","order":"ascending"},{"field":"k","order":"ascending"}]}],"mark":{"type":"line","stroke":"#999999","strokeWidth":1.2},"encoding":{"y":{"field":"e","type":"quantitative","axis":null},"x":{"field":"d","type":"quantitative","axis":null},"order":{"field":"o","type":"quantitative"}}},
  {"data":{"name":"curves"},"transform":[{"filter":"datum.p==6"}],"mark":{"type":"line","stroke":"#0000ff","strokeOpacity":0.78,"strokeWidth":2.5,"interpolate":"catmull-rom","clip":true},"encoding":{"y":{"field":"r","type":"quantitative","axis":{"orient":"right","values":[-1,-0.5,0,0.5,1],"title":null}},"x":{"field":"d","type":"quantitative","axis":null},"order":{"field":"r","type":"quantitative"}}},
  {"data":{"values":[{}]},"mark":{"type":"rect","fill":"#ffffff","stroke":"#000000","strokeWidth":1},"encoding":{"x":{"datum":1.724,"axis":null},"x2":{"datum":2.362},"y":{"datum":-1.003,"axis":null},"y2":{"datum":1.013}}},
  {"data":{"values":[{}]},"mark":{"type":"rule","stroke":"#0000ff","strokeOpacity":0.55,"strokeWidth":2},"encoding":{"x":{"datum":2.052,"axis":null},"y":{"datum":-0.9,"axis":null},"y2":{"datum":-0.6}}},
  {"data":{"values":[{}]},"mark":{"type":"text","style":"leg"},"encoding":{"text":{"value":"i.r.e.,"},"x":{"datum":2.052,"axis":null},"y":{"datum":-0.414,"axis":null}}},
  {"data":{"values":[{}]},"mark":{"type":"text","style":"sig"},"encoding":{"text":{"value":"σ"},"x":{"datum":2.052,"axis":null},"y":{"datum":0.124,"axis":null}}},
  {"data":{"values":[{}]},"mark":{"type":"text","style":"sml"},"encoding":{"text":{"value":"i.r.e."},"x":{"datum":2.173,"axis":null},"y":{"datum":0.238,"axis":null}}},
  {"data":{"name":"labels"},"transform":[{"filter":"datum.p==6"}],"mark":{"type":"text","style":"sml"},"encoding":{"text":{"field":"sub"},"x":{"datum":1.966,"axis":null},"y":{"datum":0.238,"axis":null}}},
  {"data":{"name":"labels"},"transform":[{"filter":"datum.p==6"}],"mark":{"type":"text","style":"mth"},"encoding":{"text":{"field":"val"},"x":{"datum":2.052,"axis":null},"y":{"datum":0.569,"axis":null}}},
  {"data":{"name":"labels"},"transform":[{"filter":"datum.p==6"}],"mark":{"type":"text","style":"ttl"},"encoding":{"text":{"field":"t1"},"x":{"datum":2.69,"axis":null},"y":{"datum":-0.079,"axis":null}}},
  {"data":{"name":"labels"},"transform":[{"filter":"datum.p==6"}],"mark":{"type":"text","style":"tm"},"encoding":{"text":{"field":"t2"},"x":{"datum":2.69,"axis":null},"y":{"datum":-0.037,"axis":null}}}
 ]},
 {"width":145,"height":232,"resolve":{"axis":{"y":"independent"}},"layer":[
  {"data":{"name":"bars"},"transform":[{"filter":"datum.p==2"}],"mark":{"type":"rect","fill":"#8c8cff","stroke":"#8c8cff","strokeWidth":0.6},"encoding":{"y":{"field":"lo","type":"quantitative","scale":{"domain":[-1.2,1.2],"reverse":true,"nice":false,"zero":false},"axis":{"values":[-1,-0.5,0,0.5,1],"format":".1f","title":"log₂ ratio"}},"y2":{"field":"hi"},"x":{"field":"d","type":"quantitative","scale":{"domain":[0,2.5],"nice":false,"zero":false},"axis":null},"x2":{"datum":0}}},
  {"data":{"name":"bars"},"transform":[{"filter":"datum.p==2"},{"fold":["lo","hi"],"as":["k","e"]},{"window":[{"op":"row_number","as":"o"}],"sort":[{"field":"e","order":"ascending"},{"field":"k","order":"ascending"}]}],"mark":{"type":"line","stroke":"#999999","strokeWidth":1.2},"encoding":{"y":{"field":"e","type":"quantitative","axis":null},"x":{"field":"d","type":"quantitative","axis":null},"order":{"field":"o","type":"quantitative"}}},
  {"data":{"name":"curves"},"transform":[{"filter":"datum.p==2"}],"mark":{"type":"line","stroke":"#0000ff","strokeOpacity":0.78,"strokeWidth":2.5,"interpolate":"catmull-rom","clip":true},"encoding":{"y":{"field":"r","type":"quantitative","axis":{"orient":"right","values":[-1,-0.5,0,0.5,1],"title":null}},"x":{"field":"d","type":"quantitative","axis":null},"order":{"field":"r","type":"quantitative"}}},
  {"data":{"values":[{}]},"mark":{"type":"rect","fill":"#ffffff","stroke":"#000000","strokeWidth":1},"encoding":{"x":{"datum":1.724,"axis":null},"x2":{"datum":2.362},"y":{"datum":-1.003,"axis":null},"y2":{"datum":1.013}}},
  {"data":{"values":[{}]},"mark":{"type":"rule","stroke":"#0000ff","strokeOpacity":0.55,"strokeWidth":2},"encoding":{"x":{"datum":2.052,"axis":null},"y":{"datum":-0.9,"axis":null},"y2":{"datum":-0.6}}},
  {"data":{"values":[{}]},"mark":{"type":"text","style":"leg"},"encoding":{"text":{"value":"i.r.e.,"},"x":{"datum":2.052,"axis":null},"y":{"datum":-0.414,"axis":null}}},
  {"data":{"values":[{}]},"mark":{"type":"text","style":"sig"},"encoding":{"text":{"value":"σ"},"x":{"datum":2.052,"axis":null},"y":{"datum":0.124,"axis":null}}},
  {"data":{"values":[{}]},"mark":{"type":"text","style":"sml"},"encoding":{"text":{"value":"i.r.e."},"x":{"datum":2.173,"axis":null},"y":{"datum":0.238,"axis":null}}},
  {"data":{"name":"labels"},"transform":[{"filter":"datum.p==2"}],"mark":{"type":"text","style":"sml"},"encoding":{"text":{"field":"sub"},"x":{"datum":1.966,"axis":null},"y":{"datum":0.238,"axis":null}}},
  {"data":{"name":"labels"},"transform":[{"filter":"datum.p==2"}],"mark":{"type":"text","style":"mth"},"encoding":{"text":{"field":"val"},"x":{"datum":2.052,"axis":null},"y":{"datum":0.569,"axis":null}}},
  {"data":{"name":"labels"},"transform":[{"filter":"datum.p==2"}],"mark":{"type":"text","style":"ttl"},"encoding":{"text":{"field":"t1"},"x":{"datum":2.69,"axis":null},"y":{"datum":-0.079,"axis":null}}},
  {"data":{"name":"labels"},"transform":[{"filter":"datum.p==2"}],"mark":{"type":"text","style":"tm"},"encoding":{"text":{"field":"t2"},"x":{"datum":2.69,"axis":null},"y":{"datum":-0.037,"axis":null}}}
 ]},
 {"width":145,"height":232,"resolve":{"axis":{"y":"independent"}},"layer":[
  {"data":{"name":"bars"},"transform":[{"filter":"datum.p==11"}],"mark":{"type":"rect","fill":"#8c8cff","stroke":"#8c8cff","strokeWidth":0.6},"encoding":{"y":{"field":"lo","type":"quantitative","scale":{"domain":[-1.2,1.2],"reverse":true,"nice":false,"zero":false},"axis":{"values":[-1,-0.5,0,0.5,1],"format":".1f","title":"log₂ ratio"}},"y2":{"field":"hi"},"x":{"field":"d","type":"quantitative","scale":{"domain":[0,2.5],"nice":false,"zero":false},"axis":null},"x2":{"datum":0}}},
  {"data":{"name":"bars"},"transform":[{"filter":"datum.p==11"},{"fold":["lo","hi"],"as":["k","e"]},{"window":[{"op":"row_number","as":"o"}],"sort":[{"field":"e","order":"ascending"},{"field":"k","order":"ascending"}]}],"mark":{"type":"line","stroke":"#999999","strokeWidth":1.2},"encoding":{"y":{"field":"e","type":"quantitative","axis":null},"x":{"field":"d","type":"quantitative","axis":null},"order":{"field":"o","type":"quantitative"}}},
  {"data":{"name":"curves"},"transform":[{"filter":"datum.p==11"}],"mark":{"type":"line","stroke":"#0000ff","strokeOpacity":0.78,"strokeWidth":2.5,"interpolate":"catmull-rom","clip":true},"encoding":{"y":{"field":"r","type":"quantitative","axis":{"orient":"right","values":[-1,-0.5,0,0.5,1],"title":null}},"x":{"field":"d","type":"quantitative","axis":null},"order":{"field":"r","type":"quantitative"}}},
  {"data":{"values":[{}]},"mark":{"type":"rect","fill":"#ffffff","stroke":"#000000","strokeWidth":1},"encoding":{"x":{"datum":1.724,"axis":null},"x2":{"datum":2.362},"y":{"datum":-1.003,"axis":null},"y2":{"datum":1.013}}},
  {"data":{"values":[{}]},"mark":{"type":"rule","stroke":"#0000ff","strokeOpacity":0.55,"strokeWidth":2},"encoding":{"x":{"datum":2.052,"axis":null},"y":{"datum":-0.9,"axis":null},"y2":{"datum":-0.6}}},
  {"data":{"values":[{}]},"mark":{"type":"text","style":"leg"},"encoding":{"text":{"value":"i.r.e.,"},"x":{"datum":2.052,"axis":null},"y":{"datum":-0.414,"axis":null}}},
  {"data":{"values":[{}]},"mark":{"type":"text","style":"sig"},"encoding":{"text":{"value":"σ"},"x":{"datum":2.052,"axis":null},"y":{"datum":0.124,"axis":null}}},
  {"data":{"values":[{}]},"mark":{"type":"text","style":"sml"},"encoding":{"text":{"value":"i.r.e."},"x":{"datum":2.173,"axis":null},"y":{"datum":0.238,"axis":null}}},
  {"data":{"name":"labels"},"transform":[{"filter":"datum.p==11"}],"mark":{"type":"text","style":"mth"},"encoding":{"text":{"field":"val"},"x":{"datum":2.052,"axis":null},"y":{"datum":0.569,"axis":null}}},
  {"data":{"name":"labels"},"transform":[{"filter":"datum.p==11"}],"mark":{"type":"text","style":"ttl","align":"center"},"encoding":{"text":{"field":"t1"},"x":{"datum":2.69,"axis":null},"y":{"datum":0,"axis":null}}}
 ]},
 {"width":145,"height":232,"resolve":{"axis":{"y":"independent"}},"layer":[
  {"data":{"name":"bars"},"transform":[{"filter":"datum.p==7"}],"mark":{"type":"rect","fill":"#8c8cff","stroke":"#8c8cff","strokeWidth":0.6},"encoding":{"y":{"field":"lo","type":"quantitative","scale":{"domain":[-1.2,1.2],"reverse":true,"nice":false,"zero":false},"axis":{"values":[-1,-0.5,0,0.5,1],"format":".1f","title":"log₂ ratio"}},"y2":{"field":"hi"},"x":{"field":"d","type":"quantitative","scale":{"domain":[0,2.5],"nice":false,"zero":false},"axis":null},"x2":{"datum":0}}},
  {"data":{"name":"bars"},"transform":[{"filter":"datum.p==7"},{"fold":["lo","hi"],"as":["k","e"]},{"window":[{"op":"row_number","as":"o"}],"sort":[{"field":"e","order":"ascending"},{"field":"k","order":"ascending"}]}],"mark":{"type":"line","stroke":"#999999","strokeWidth":1.2},"encoding":{"y":{"field":"e","type":"quantitative","axis":null},"x":{"field":"d","type":"quantitative","axis":null},"order":{"field":"o","type":"quantitative"}}},
  {"data":{"name":"curves"},"transform":[{"filter":"datum.p==7"}],"mark":{"type":"line","stroke":"#0000ff","strokeOpacity":0.78,"strokeWidth":2.5,"interpolate":"catmull-rom","clip":true},"encoding":{"y":{"field":"r","type":"quantitative","axis":{"orient":"right","values":[-1,-0.5,0,0.5,1],"title":null}},"x":{"field":"d","type":"quantitative","axis":null},"order":{"field":"r","type":"quantitative"}}},
  {"data":{"values":[{}]},"mark":{"type":"rect","fill":"#ffffff","stroke":"#000000","strokeWidth":1},"encoding":{"x":{"datum":1.724,"axis":null},"x2":{"datum":2.362},"y":{"datum":-1.003,"axis":null},"y2":{"datum":1.013}}},
  {"data":{"values":[{}]},"mark":{"type":"rule","stroke":"#0000ff","strokeOpacity":0.55,"strokeWidth":2},"encoding":{"x":{"datum":2.052,"axis":null},"y":{"datum":-0.9,"axis":null},"y2":{"datum":-0.6}}},
  {"data":{"values":[{}]},"mark":{"type":"text","style":"leg"},"encoding":{"text":{"value":"i.r.e.,"},"x":{"datum":2.052,"axis":null},"y":{"datum":-0.414,"axis":null}}},
  {"data":{"values":[{}]},"mark":{"type":"text","style":"sig"},"encoding":{"text":{"value":"σ"},"x":{"datum":2.052,"axis":null},"y":{"datum":0.124,"axis":null}}},
  {"data":{"values":[{}]},"mark":{"type":"text","style":"sml"},"encoding":{"text":{"value":"i.r.e."},"x":{"datum":2.173,"axis":null},"y":{"datum":0.238,"axis":null}}},
  {"data":{"name":"labels"},"transform":[{"filter":"datum.p==7"}],"mark":{"type":"text","style":"sml"},"encoding":{"text":{"field":"sub"},"x":{"datum":1.966,"axis":null},"y":{"datum":0.238,"axis":null}}},
  {"data":{"name":"labels"},"transform":[{"filter":"datum.p==7"}],"mark":{"type":"text","style":"mth"},"encoding":{"text":{"field":"val"},"x":{"datum":2.052,"axis":null},"y":{"datum":0.569,"axis":null}}},
  {"data":{"name":"labels"},"transform":[{"filter":"datum.p==7"}],"mark":{"type":"text","style":"ttl"},"encoding":{"text":{"field":"t1"},"x":{"datum":2.69,"axis":null},"y":{"datum":-0.12,"axis":null}}},
  {"data":{"name":"labels"},"transform":[{"filter":"datum.p==7"}],"mark":{"type":"text","style":"tm"},"encoding":{"text":{"field":"t2"},"x":{"datum":2.69,"axis":null},"y":{"datum":-0.079,"axis":null}}}
 ]},
 {"width":145,"height":232,"resolve":{"axis":{"y":"independent"}},"layer":[
  {"data":{"name":"bars"},"transform":[{"filter":"datum.p==3"}],"mark":{"type":"rect","fill":"#8c8cff","stroke":"#8c8cff","strokeWidth":0.6},"encoding":{"y":{"field":"lo","type":"quantitative","scale":{"domain":[-1.2,1.2],"reverse":true,"nice":false,"zero":false},"axis":{"values":[-1,-0.5,0,0.5,1],"format":".1f","title":"log₂ ratio"}},"y2":{"field":"hi"},"x":{"field":"d","type":"quantitative","scale":{"domain":[0,2.5],"nice":false,"zero":false},"axis":null},"x2":{"datum":0}}},
  {"data":{"name":"bars"},"transform":[{"filter":"datum.p==3"},{"fold":["lo","hi"],"as":["k","e"]},{"window":[{"op":"row_number","as":"o"}],"sort":[{"field":"e","order":"ascending"},{"field":"k","order":"ascending"}]}],"mark":{"type":"line","stroke":"#999999","strokeWidth":1.2},"encoding":{"y":{"field":"e","type":"quantitative","axis":null},"x":{"field":"d","type":"quantitative","axis":null},"order":{"field":"o","type":"quantitative"}}},
  {"data":{"name":"curves"},"transform":[{"filter":"datum.p==3"}],"mark":{"type":"line","stroke":"#0000ff","strokeOpacity":0.78,"strokeWidth":2.5,"interpolate":"catmull-rom","clip":true},"encoding":{"y":{"field":"r","type":"quantitative","axis":{"orient":"right","values":[-1,-0.5,0,0.5,1],"title":null}},"x":{"field":"d","type":"quantitative","axis":null},"order":{"field":"r","type":"quantitative"}}},
  {"data":{"values":[{}]},"mark":{"type":"rect","fill":"#ffffff","stroke":"#000000","strokeWidth":1},"encoding":{"x":{"datum":1.724,"axis":null},"x2":{"datum":2.362},"y":{"datum":-1.003,"axis":null},"y2":{"datum":1.013}}},
  {"data":{"values":[{}]},"mark":{"type":"rule","stroke":"#0000ff","strokeOpacity":0.55,"strokeWidth":2},"encoding":{"x":{"datum":2.052,"axis":null},"y":{"datum":-0.9,"axis":null},"y2":{"datum":-0.6}}},
  {"data":{"values":[{}]},"mark":{"type":"text","style":"leg"},"encoding":{"text":{"value":"i.r.e.,"},"x":{"datum":2.052,"axis":null},"y":{"datum":-0.414,"axis":null}}},
  {"data":{"values":[{}]},"mark":{"type":"text","style":"sig"},"encoding":{"text":{"value":"σ"},"x":{"datum":2.052,"axis":null},"y":{"datum":0.124,"axis":null}}},
  {"data":{"values":[{}]},"mark":{"type":"text","style":"sml"},"encoding":{"text":{"value":"i.r.e."},"x":{"datum":2.173,"axis":null},"y":{"datum":0.238,"axis":null}}},
  {"data":{"name":"labels"},"transform":[{"filter":"datum.p==3"}],"mark":{"type":"text","style":"sml"},"encoding":{"text":{"field":"sub"},"x":{"datum":1.966,"axis":null},"y":{"datum":0.238,"axis":null}}},
  {"data":{"name":"labels"},"transform":[{"filter":"datum.p==3"}],"mark":{"type":"text","style":"mth"},"encoding":{"text":{"field":"val"},"x":{"datum":2.052,"axis":null},"y":{"datum":0.569,"axis":null}}},
  {"data":{"name":"labels"},"transform":[{"filter":"datum.p==3"}],"mark":{"type":"text","style":"ttl"},"encoding":{"text":{"field":"t1"},"x":{"datum":2.69,"axis":null},"y":{"datum":-0.079,"axis":null}}},
  {"data":{"name":"labels"},"transform":[{"filter":"datum.p==3"}],"mark":{"type":"text","style":"tm"},"encoding":{"text":{"field":"t2"},"x":{"datum":2.69,"axis":null},"y":{"datum":-0.037,"axis":null}}}
 ]},
 {"width":145,"height":232,"resolve":{"axis":{"y":"independent"}},"layer":[
  {"data":{"name":"bars"},"transform":[{"filter":"datum.p==12"}],"mark":{"type":"rect","fill":"#8cc58c","stroke":"#8cc58c","strokeWidth":0.6},"encoding":{"y":{"field":"lo","type":"quantitative","scale":{"domain":[-1.2,1.2],"reverse":true,"nice":false,"zero":false},"axis":{"values":[-1,-0.5,0,0.5,1],"format":".1f","title":"log₂ ratio"}},"y2":{"field":"hi"},"x":{"field":"d","type":"quantitative","scale":{"domain":[0,2.5],"nice":false,"zero":false},"axis":null},"x2":{"datum":0}}},
  {"data":{"name":"bars"},"transform":[{"filter":"datum.p==12"},{"fold":["lo","hi"],"as":["k","e"]},{"window":[{"op":"row_number","as":"o"}],"sort":[{"field":"e","order":"ascending"},{"field":"k","order":"ascending"}]}],"mark":{"type":"line","stroke":"#999999","strokeWidth":1.2},"encoding":{"y":{"field":"e","type":"quantitative","axis":null},"x":{"field":"d","type":"quantitative","axis":null},"order":{"field":"o","type":"quantitative"}}},
  {"data":{"name":"curves"},"transform":[{"filter":"datum.p==12"}],"mark":{"type":"line","stroke":"#008000","strokeOpacity":0.78,"strokeWidth":2.5,"interpolate":"catmull-rom","clip":true},"encoding":{"y":{"field":"r","type":"quantitative","axis":{"orient":"right","values":[-1,-0.5,0,0.5,1],"title":null}},"x":{"field":"d","type":"quantitative","axis":null},"order":{"field":"r","type":"quantitative"}}},
  {"data":{"values":[{}]},"mark":{"type":"rect","fill":"#ffffff","stroke":"#000000","strokeWidth":1},"encoding":{"x":{"datum":1.724,"axis":null},"x2":{"datum":2.362},"y":{"datum":-1.003,"axis":null},"y2":{"datum":1.013}}},
  {"data":{"values":[{}]},"mark":{"type":"rule","stroke":"#008000","strokeOpacity":0.55,"strokeWidth":2},"encoding":{"x":{"datum":2.052,"axis":null},"y":{"datum":-0.9,"axis":null},"y2":{"datum":-0.6}}},
  {"data":{"values":[{}]},"mark":{"type":"text","style":"leg"},"encoding":{"text":{"value":"i.r.e.,"},"x":{"datum":2.052,"axis":null},"y":{"datum":-0.414,"axis":null}}},
  {"data":{"values":[{}]},"mark":{"type":"text","style":"sig"},"encoding":{"text":{"value":"σ"},"x":{"datum":2.052,"axis":null},"y":{"datum":0.124,"axis":null}}},
  {"data":{"values":[{}]},"mark":{"type":"text","style":"sml"},"encoding":{"text":{"value":"i.r.e."},"x":{"datum":2.173,"axis":null},"y":{"datum":0.238,"axis":null}}},
  {"data":{"name":"labels"},"transform":[{"filter":"datum.p==12"}],"mark":{"type":"text","style":"mth"},"encoding":{"text":{"field":"val"},"x":{"datum":2.052,"axis":null},"y":{"datum":0.569,"axis":null}}},
  {"data":{"name":"labels"},"transform":[{"filter":"datum.p==12"}],"mark":{"type":"text","style":"ttl","align":"center"},"encoding":{"text":{"field":"t1"},"x":{"datum":2.69,"axis":null},"y":{"datum":0,"axis":null}}}
 ]},
 {"width":145,"height":232,"resolve":{"axis":{"y":"independent"}},"layer":[
  {"data":{"name":"bars"},"transform":[{"filter":"datum.p==8"}],"mark":{"type":"rect","fill":"#8c8cff","stroke":"#8c8cff","strokeWidth":0.6},"encoding":{"y":{"field":"lo","type":"quantitative","scale":{"domain":[-1.2,1.2],"reverse":true,"nice":false,"zero":false},"axis":{"values":[-1,-0.5,0,0.5,1],"format":".1f","title":"log₂ ratio"}},"y2":{"field":"hi"},"x":{"field":"d","type":"quantitative","scale":{"domain":[0,2.5],"nice":false,"zero":false},"axis":null},"x2":{"datum":0}}},
  {"data":{"name":"bars"},"transform":[{"filter":"datum.p==8"},{"fold":["lo","hi"],"as":["k","e"]},{"window":[{"op":"row_number","as":"o"}],"sort":[{"field":"e","order":"ascending"},{"field":"k","order":"ascending"}]}],"mark":{"type":"line","stroke":"#999999","strokeWidth":1.2},"encoding":{"y":{"field":"e","type":"quantitative","axis":null},"x":{"field":"d","type":"quantitative","axis":null},"order":{"field":"o","type":"quantitative"}}},
  {"data":{"name":"curves"},"transform":[{"filter":"datum.p==8"}],"mark":{"type":"line","stroke":"#0000ff","strokeOpacity":0.78,"strokeWidth":2.5,"interpolate":"catmull-rom","clip":true},"encoding":{"y":{"field":"r","type":"quantitative","axis":{"orient":"right","values":[-1,-0.5,0,0.5,1],"title":null}},"x":{"field":"d","type":"quantitative","axis":null},"order":{"field":"r","type":"quantitative"}}},
  {"data":{"values":[{}]},"mark":{"type":"rect","fill":"#ffffff","stroke":"#000000","strokeWidth":1},"encoding":{"x":{"datum":1.724,"axis":null},"x2":{"datum":2.362},"y":{"datum":-1.003,"axis":null},"y2":{"datum":1.013}}},
  {"data":{"values":[{}]},"mark":{"type":"rule","stroke":"#0000ff","strokeOpacity":0.55,"strokeWidth":2},"encoding":{"x":{"datum":2.052,"axis":null},"y":{"datum":-0.9,"axis":null},"y2":{"datum":-0.6}}},
  {"data":{"values":[{}]},"mark":{"type":"text","style":"leg"},"encoding":{"text":{"value":"i.r.e.,"},"x":{"datum":2.052,"axis":null},"y":{"datum":-0.414,"axis":null}}},
  {"data":{"values":[{}]},"mark":{"type":"text","style":"sig"},"encoding":{"text":{"value":"σ"},"x":{"datum":2.052,"axis":null},"y":{"datum":0.124,"axis":null}}},
  {"data":{"values":[{}]},"mark":{"type":"text","style":"sml"},"encoding":{"text":{"value":"i.r.e."},"x":{"datum":2.173,"axis":null},"y":{"datum":0.238,"axis":null}}},
  {"data":{"name":"labels"},"transform":[{"filter":"datum.p==8"}],"mark":{"type":"text","style":"sml"},"encoding":{"text":{"field":"sub"},"x":{"datum":1.966,"axis":null},"y":{"datum":0.238,"axis":null}}},
  {"data":{"name":"labels"},"transform":[{"filter":"datum.p==8"}],"mark":{"type":"text","style":"mth"},"encoding":{"text":{"field":"val"},"x":{"datum":2.052,"axis":null},"y":{"datum":0.569,"axis":null}}},
  {"data":{"name":"labels"},"transform":[{"filter":"datum.p==8"}],"mark":{"type":"text","style":"ttl"},"encoding":{"text":{"field":"t1"},"x":{"datum":2.69,"axis":null},"y":{"datum":-0.161,"axis":null}}},
  {"data":{"name":"labels"},"transform":[{"filter":"datum.p==8"}],"mark":{"type":"text","style":"tm"},"encoding":{"text":{"field":"t2"},"x":{"datum":2.69,"axis":null},"y":{"datum":-0.12,"axis":null}}}
 ]},
 {"width":145,"height":232,"resolve":{"axis":{"y":"independent"}},"layer":[
  {"data":{"name":"bars"},"transform":[{"filter":"datum.p==4"}],"mark":{"type":"rect","fill":"#8c8cff","stroke":"#8c8cff","strokeWidth":0.6},"encoding":{"y":{"field":"lo","type":"quantitative","scale":{"domain":[-1.2,1.2],"reverse":true,"nice":false,"zero":false},"axis":{"values":[-1,-0.5,0,0.5,1],"format":".1f","title":"log₂ ratio"}},"y2":{"field":"hi"},"x":{"field":"d","type":"quantitative","scale":{"domain":[0,2.5],"nice":false,"zero":false},"axis":null},"x2":{"datum":0}}},
  {"data":{"name":"bars"},"transform":[{"filter":"datum.p==4"},{"fold":["lo","hi"],"as":["k","e"]},{"window":[{"op":"row_number","as":"o"}],"sort":[{"field":"e","order":"ascending"},{"field":"k","order":"ascending"}]}],"mark":{"type":"line","stroke":"#999999","strokeWidth":1.2},"encoding":{"y":{"field":"e","type":"quantitative","axis":null},"x":{"field":"d","type":"quantitative","axis":null},"order":{"field":"o","type":"quantitative"}}},
  {"data":{"name":"curves"},"transform":[{"filter":"datum.p==4"}],"mark":{"type":"line","stroke":"#0000ff","strokeOpacity":0.78,"strokeWidth":2.5,"interpolate":"catmull-rom","clip":true},"encoding":{"y":{"field":"r","type":"quantitative","axis":{"orient":"right","values":[-1,-0.5,0,0.5,1],"title":null}},"x":{"field":"d","type":"quantitative","axis":null},"order":{"field":"r","type":"quantitative"}}},
  {"data":{"values":[{}]},"mark":{"type":"rect","fill":"#ffffff","stroke":"#000000","strokeWidth":1},"encoding":{"x":{"datum":1.724,"axis":null},"x2":{"datum":2.362},"y":{"datum":-1.003,"axis":null},"y2":{"datum":1.013}}},
  {"data":{"values":[{}]},"mark":{"type":"rule","stroke":"#0000ff","strokeOpacity":0.55,"strokeWidth":2},"encoding":{"x":{"datum":2.052,"axis":null},"y":{"datum":-0.9,"axis":null},"y2":{"datum":-0.6}}},
  {"data":{"values":[{}]},"mark":{"type":"text","style":"leg"},"encoding":{"text":{"value":"i.r.e.,"},"x":{"datum":2.052,"axis":null},"y":{"datum":-0.414,"axis":null}}},
  {"data":{"values":[{}]},"mark":{"type":"text","style":"sig"},"encoding":{"text":{"value":"σ"},"x":{"datum":2.052,"axis":null},"y":{"datum":0.124,"axis":null}}},
  {"data":{"values":[{}]},"mark":{"type":"text","style":"sml"},"encoding":{"text":{"value":"i.r.e."},"x":{"datum":2.173,"axis":null},"y":{"datum":0.238,"axis":null}}},
  {"data":{"name":"labels"},"transform":[{"filter":"datum.p==4"}],"mark":{"type":"text","style":"sml"},"encoding":{"text":{"field":"sub"},"x":{"datum":1.966,"axis":null},"y":{"datum":0.238,"axis":null}}},
  {"data":{"name":"labels"},"transform":[{"filter":"datum.p==4"}],"mark":{"type":"text","style":"mth"},"encoding":{"text":{"field":"val"},"x":{"datum":2.052,"axis":null},"y":{"datum":0.569,"axis":null}}},
  {"data":{"name":"labels"},"transform":[{"filter":"datum.p==4"}],"mark":{"type":"text","style":"ttl"},"encoding":{"text":{"field":"t1"},"x":{"datum":2.69,"axis":null},"y":{"datum":-0.079,"axis":null}}},
  {"data":{"name":"labels"},"transform":[{"filter":"datum.p==4"}],"mark":{"type":"text","style":"tm"},"encoding":{"text":{"field":"t2"},"x":{"datum":2.69,"axis":null},"y":{"datum":-0.037,"axis":null}}}
 ]}
]
}
